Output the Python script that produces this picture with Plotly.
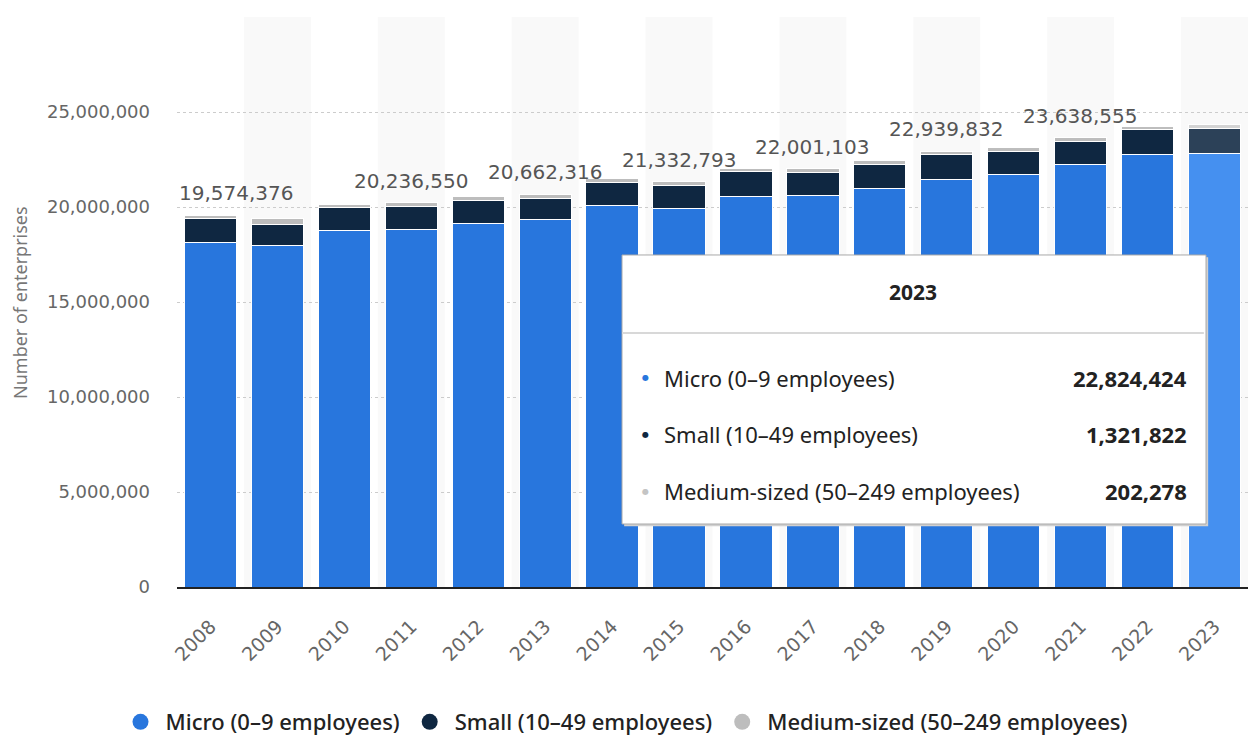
import plotly.graph_objects as go

# Number of enterprises by size class, 2008-2023
years = [str(y) for y in range(2008, 2024)]
micro = [18152901, 17985412, 18748209, 18814100, 19112634, 19325782, 20094317, 19927167,
         20560742, 20582731, 20955306, 21432067, 21709834, 22220696, 22747913, 22824424]
small = [1226245, 1118530, 1210877, 1226020, 1231418, 1140522, 1196845, 1211506,
         1301655, 1226418, 1298712, 1312447, 1210365, 1225983, 1313287, 1321822]
medium = [195230, 279864, 197640, 196430, 193906, 196012, 193220, 194120,
          189377, 191954, 192840, 195318, 189642, 191876, 198516, 202278]

series_names = ["Micro (0–9 employees)", "Small (10–49 employees)", "Medium-sized (50–249 employees)"]
labelled_years = ["2008", "2011", "2013", "2015", "2017", "2019", "2021"]
highlight_year = "2023"
y_ticks = [0, 5000000, 10000000, 15000000, 20000000, 25000000, 30000000]
y_title = "Number of enterprises"

BASE = ["#2876dd", "#0f2741", "#bdbdbd"]
HOVER = ["#4590f0", "#2c4158", "#d4d4d4"]
DOTS = ["#2876dd", "#0f2741", "#c4c4c4"]
NUM_FONT = "DejaVu Sans"
TEXT_FONT = "Noto Sans"

hi = years.index(highlight_year)
totals = [a + b + c for a, b, c in zip(micro, small, medium)]

fig = go.Figure()

for values, name, base, hov in zip([micro, small, medium], series_names, BASE, HOVER):
    colors = [hov if i == hi else base for i in range(len(years))]
    fig.add_trace(go.Bar(
        x=years, y=values, name=name, showlegend=False,
        marker=dict(color=colors, line=dict(color="white", width=1)),
        hoverinfo="skip",
    ))

# round legend swatches
for name, base in zip(series_names, BASE):
    fig.add_trace(go.Scatter(
        x=[years[0]], y=[None], mode="markers", name=name,
        marker=dict(symbol="circle", size=20, color=base),
    ))

shapes = []
# alternating column shading
for i, yr in enumerate(years):
    if i % 2 == 1:
        shapes.append(dict(type="rect", xref="x", yref="paper", x0=i - 0.5, x1=i + 0.5,
                           y0=0, y1=1, fillcolor="#f9f9f9", line=dict(width=0), layer="below"))

annotations = []
for yr in labelled_years:
    i = years.index(yr)
    ann = dict(x=i, y=totals[i], xref="x", yref="y", text=f"{totals[i]:,}",
               showarrow=False, xanchor="center", yanchor="bottom", yshift=8,
               font=dict(family=NUM_FONT, size=20, color="#555555"))
    if i == 0:
        ann.update(xanchor="left", xshift=-33)
    annotations.append(ann)

# vertical y-axis title
annotations.append(dict(x=-0.1466, y=0.5, xref="paper", yref="paper", text=y_title,
                        textangle=-90, showarrow=False, xanchor="center", yanchor="middle",
                        font=dict(family=TEXT_FONT, size=18, color="#777777")))

# tooltip panel for the highlighted year
tx0, tx1, ty0, ty1 = 0.4155, 0.9608, 0.1105, 0.5825
shapes.append(dict(type="rect", xref="paper", yref="paper", x0=tx0 + 0.002, x1=tx1 + 0.002,
                   y0=ty0 - 0.004, y1=ty1 - 0.004, fillcolor="#d0d0d0", line=dict(width=0), layer="above"))
shapes.append(dict(type="rect", xref="paper", yref="paper", x0=tx0, x1=tx1, y0=ty0, y1=ty1,
                   fillcolor="white", line=dict(color="#a8a8a8", width=1), layer="above"))
shapes.append(dict(type="line", xref="paper", yref="paper", x0=tx0, x1=tx1 - 0.002,
                   y0=0.4456, y1=0.4456, line=dict(color="#d8d8d8", width=2), layer="above"))
annotations.append(dict(x=0.6872, y=0.5175, xref="paper", yref="paper", text="<b>" + highlight_year + "</b>",
                        showarrow=False, xanchor="center", yanchor="middle",
                        font=dict(family=TEXT_FONT, size=21, color="#222222")))
row_y = [0.3667, 0.2684, 0.1684]
for values, name, dot, ry in zip([micro, small, medium], series_names, DOTS, row_y):
    annotations.append(dict(x=0.4375, y=ry, xref="paper", yref="paper", text="●", showarrow=False,
                            xanchor="center", yanchor="middle",
                            font=dict(family="DejaVu Sans", size=8, color=dot)))
    annotations.append(dict(x=0.4529, y=ry, xref="paper", yref="paper", text=name, showarrow=False,
                            xanchor="left", yanchor="middle",
                            font=dict(family=TEXT_FONT, size=22, color="#222222")))
    annotations.append(dict(x=0.9445, y=ry, xref="paper", yref="paper", text=f"<b>{values[hi]:,}</b>",
                            showarrow=False, xanchor="right", yanchor="middle",
                            font=dict(family=TEXT_FONT, size=22, color="#222222")))

fig.update_layout(
    width=1248, height=736,
    margin=dict(l=177, r=0, t=17, b=149),
    barmode="stack", bargap=0.22,
    plot_bgcolor="white", paper_bgcolor="white",
    shapes=shapes, annotations=annotations,
    legend=dict(orientation="h", xref="container", yref="container", x=0.5, y=0.019,
                xanchor="center", yanchor="middle", itemwidth=40,
                font=dict(family=TEXT_FONT, size=22, color="#222222", weight=500),
                itemsizing="trace", traceorder="normal"),
)
fig.update_xaxes(
    type="category", categoryorder="array", categoryarray=years,
    range=[-0.5, len(years) - 0.5], autorange=False,
    showline=True, linecolor="#222222", linewidth=2,
    showgrid=False, tickangle=-45, ticks="", ticklabelstandoff=19,
    tickfont=dict(family=NUM_FONT, size=19, color="#666666"),
)
fig.update_yaxes(
    range=[0, 30000000], tickvals=y_ticks,
    ticktext=[f"{v:,}" for v in y_ticks[:-1]] + [""],
    showgrid=True, gridcolor="#cccccc", griddash="dot", gridwidth=1,
    zeroline=False, ticks="", ticklabelstandoff=26,
    tickfont=dict(family=NUM_FONT, size=18, color="#666666"),
)

fig.write_html("out.html")
